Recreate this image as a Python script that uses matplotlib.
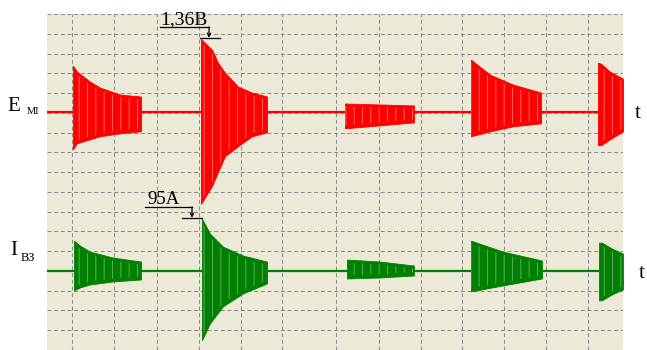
import numpy as np
import matplotlib.pyplot as plt

# burst envelopes: time, upper and lower swing (screen units)
em_time = [[73, 77, 90, 100, 120, 141],
           [201, 212, 218, 225, 238, 252, 267],
           [345, 380, 414],
           [471, 490, 513, 541],
           [598, 601, 610, 623]]
em_upper = [[47, 41, 31, 25, 18, 16],
            [74, 63, 50, 40, 26, 20, 16],
            [9, 8, 7],
            [53, 38, 28, 20],
            [50, 49, 41, 34]]
em_lower = [[37, 31, 27, 24, 21, 19],
            [92, 74, 60, 44, 34, 24, 20],
            [16, 13, 10],
            [24, 19, 14, 11],
            [33, 33, 27, 19]]

ib_time = [[74, 80, 90, 113, 141],
           [202, 210, 223, 243, 267],
           [347, 380, 414],
           [471, 503, 542],
           [599, 602, 612, 623]]
ib_upper = [[30, 25, 19, 13, 9],
            [52, 37, 24, 15, 9],
            [11, 9, 5],
            [30, 19, 10],
            [28, 28, 22, 17]]
ib_lower = [[20, 17, 14, 11, 9],
            [70, 53, 36, 23, 13],
            [8, 7, 5],
            [21, 15, 8],
            [30, 30, 24, 19]]

em_peak_label = '1,36В'
ib_peak_label = '95А'

grid_x = [72, 114, 157, 199, 241, 282, 336, 379, 421, 462, 504, 546, 588]

RED = '#ff0000'
GREEN = '#008000'
BG = '#ece9d8'
SERIF = ['Liberation Serif', 'DejaVu Serif']

plt.rcParams['hatch.linewidth'] = 0.7

fig = plt.figure(figsize=(6.47, 3.5), dpi=100)
ax = fig.add_axes([47 / 647, 0, 576 / 647, 336 / 350])
ax.set_xlim(47, 623)
ax.set_ylim(350, 14)
ax.set_facecolor(BG)
for s in ax.spines.values():
    s.set_visible(False)

ax.set_xticks(grid_x)
ax.set_yticks(np.arange(14, 353, 19.88))
ax.tick_params(length=0, labelbottom=False, labelleft=False)
ax.grid(True, color='#8c8c8c', lw=0.75, linestyle=(0, (3.8, 2.6)))
ax.set_axisbelow(True)


def draw_trace(base, times, upper, lower, color, streak):
    ax.plot([47, 623], [base, base], color=color, lw=1.6, zorder=3)
    for t, u, l in zip(times, upper, lower):
        t = np.array(t)
        top = base - np.array(u)
        bot = base + np.array(l)
        ax.fill_between(t, top, bot, color=color, lw=0.6, edgecolor=color,
                        zorder=4)
        # light streaks of the dense oscillation
        ax.fill_between(t, top + 3, bot - 3, facecolor='none',
                        edgecolor=streak, hatch='||', lw=0, alpha=0.55,
                        zorder=5)


em_base, ib_base = 113, 272
draw_trace(em_base, em_time, em_upper, em_lower, RED, '#ffb4b4')
draw_trace(ib_base, ib_time, ib_upper, ib_lower, GREEN, '#a6cfa6')

arrow = dict(arrowstyle='->', lw=0.9, color='black', mutation_scale=6,
             shrinkA=0, shrinkB=0)

# peak marker of the upper trace
px, py = em_time[1][0], em_base - em_upper[1][0]
ax.text(160, 24, em_peak_label, fontsize=14, family=SERIF, va='baseline',
        ha='left', clip_on=False, zorder=6)
ax.plot([160, 209], [27, 27], color='black', lw=0.9, clip_on=False, zorder=6)
ax.plot([px - 1, px + 19], [py - 1, py - 1], color='black', lw=0.9, zorder=6)
ax.annotate('', xy=(209, py - 1), xytext=(209, 27), arrowprops=arrow,
            annotation_clip=False, zorder=6)

# peak marker of the lower trace
px, py = ib_time[1][0], ib_base - ib_upper[1][0]
ax.text(147, 205, ib_peak_label, fontsize=13.5, family=SERIF, va='baseline',
        ha='left', clip_on=False, zorder=6)
ax.plot([145, 192], [208, 208], color='black', lw=0.9, zorder=6)
ax.plot([182, px], [py - 1, py - 1], color='black', lw=0.9, zorder=6)
ax.annotate('', xy=(192, py - 1), xytext=(192, 208), arrowprops=arrow,
            zorder=6)

# channel names and time markers
ax.text(7, em_base - 1, 'E', fontsize=15, family=SERIF, va='baseline',
        clip_on=False)
ax.text(27, em_base + 2, 'МІ', fontsize=7.5, family=SERIF, va='baseline',
        clip_on=False)
ax.text(10, ib_base - 16, 'I', fontsize=15, family=SERIF, va='baseline',
        clip_on=False)
ax.text(21, ib_base - 10, 'ВЗ', fontsize=9, family=SERIF, va='baseline',
        clip_on=False)
ax.text(635, em_base + 6, 't', fontsize=15, family=SERIF, va='baseline',
        clip_on=False)
ax.text(639, ib_base + 8, 't', fontsize=15, family=SERIF, va='baseline',
        clip_on=False)

fig.savefig('out.png', dpi=100)
